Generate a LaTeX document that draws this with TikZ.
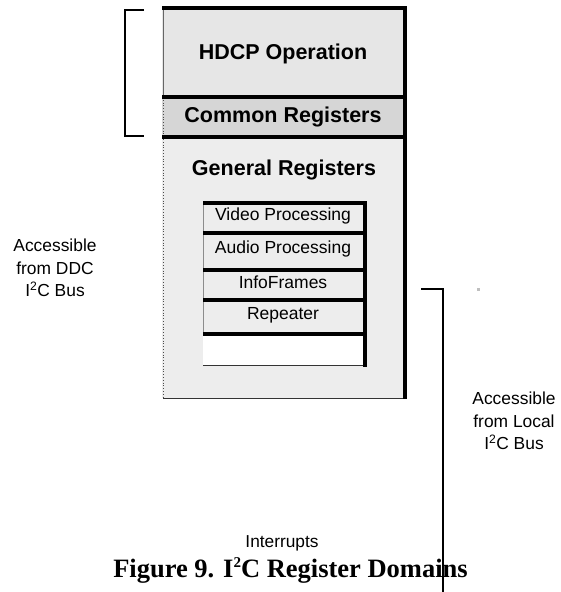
\documentclass[tikz,border=0pt]{standalone}
\usepackage{fontspec}
\setmainfont{Liberation Sans}
\newfontfamily\capfont{Liberation Serif}
\begin{document}
\begin{tikzpicture}[x=1pt,y=-1pt,
  thickrule/.style={line width=3.2pt},
  bracketline/.style={line width=1.4pt},
  title/.style={font=\fontsize{21.5}{24}\selectfont\bfseries, inner sep=0pt},
  rowtext/.style={font=\fontsize{17.5}{20}\selectfont, inner sep=0pt},
  sidelabel/.style={font=\fontsize{17.4}{22.5}\selectfont, align=center, inner sep=0pt},
]
\definecolor{hdcpfill}{HTML}{E6E6E6}
\definecolor{commonfill}{HTML}{D6D6D6}
\definecolor{generalfill}{HTML}{EDEDED}
\useasboundingbox (0,0) rectangle (560,592);

% register space column
\fill[hdcpfill] (162,8) rectangle (405,97);
\fill[commonfill] (162,97) rectangle (405,137);
\fill[generalfill] (162,137) rectangle (405,398);
\fill[white] (203,334) rectangle (365,365);

\draw[line width=0.8pt, black!60] (163,8) -- (163,97);
\draw[line width=0.8pt, black!70, dotted] (163,97) -- (163,398);
\draw[line width=1pt, black!80] (163,398) -- (403,398);
\draw[thickrule] (162,8) -- (405,8) -- (405,399);
\draw[thickrule] (162,97) -- (405,97);
\draw[thickrule] (162,137) -- (405,137);

\node[title] (hdcp) at (283,54) {HDCP Operation};
\node[title] (common) at (283,117) {Common Registers};
\node[title] (general) at (284,170) {General Registers};

% sub-blocks of the general registers
\draw[line width=0.6pt, black!45] (203,203) -- (203,334);
\draw[thickrule] (203,203) -- (365,203) -- (365,367);
\foreach \yy in {233,270,300,334} \draw[thickrule] (203,\yy) -- (365,\yy);
\draw[line width=1pt, black!80] (203,365) -- (363,365);

\node[rowtext] (video) at (283,216) {Video Processing};
\node[rowtext] (audio) at (283,249) {Audio Processing};
\node[rowtext] (info) at (283,282) {InfoFrames};
\node[rowtext] (rep) at (283,315) {Repeater};

% access brackets
\coordinate (lbt) at (144,10);
\coordinate (lbb) at (144,136);
\draw[bracketline] (lbt) -- (125,10) -- (125,136) -- (lbb);
\coordinate (rbt) at (421,289);
\coordinate (rbb) at (443,595);
\draw[bracketline] (rbt) -- (443,289) -- (rbb);
\fill[black!25] (477,288) rectangle (480,291);

\node[sidelabel] (ddc) at (55,268) {Accessible\\from DDC\\I\textsuperscript{2}C Bus};
\node[sidelabel] (local) at (514,421) {Accessible\\from Local\\I\textsuperscript{2}C Bus};

\node[rowtext, font=\fontsize{17.3}{20}\selectfont] (irq) at (282,543) {Interrupts};

\node[anchor=base, inner sep=0pt, font=\capfont\bfseries\fontsize{26.5}{30}\selectfont] (caption) at (290.5,577)
  {Figure 9. I\raisebox{10pt}{\fontsize{15}{15}\selectfont 2}C Register Domains};
\draw[bracketline] (443,540) -- (rbb);
\end{tikzpicture}
\end{document}
